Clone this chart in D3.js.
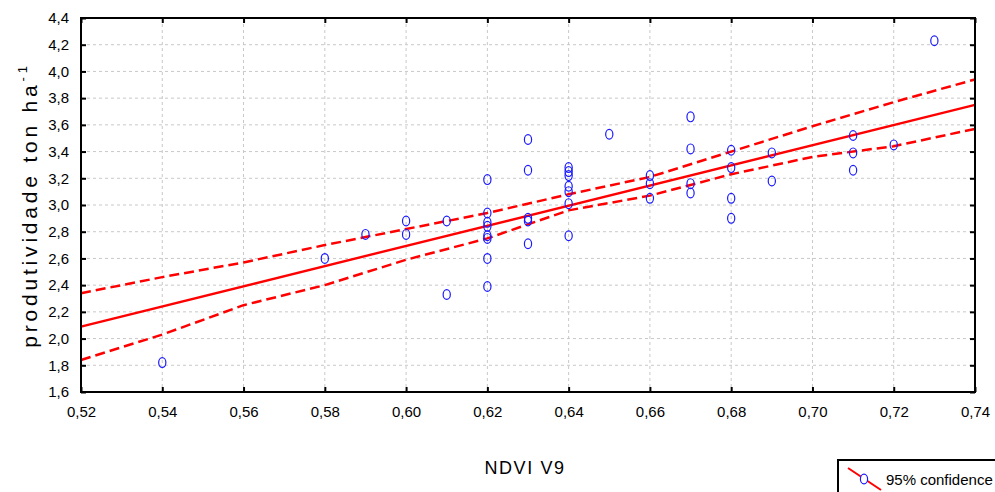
<!DOCTYPE html>
<html>
<head>
<meta charset="utf-8">
<script src="https://cdn.jsdelivr.net/npm/d3@7"></script>
<style>
  body { margin: 0; background: #fff; }
  svg { display: block; }
  text { font-family: "Liberation Sans Narrow", "Liberation Sans", Arial, sans-serif; }
</style>
</head>
<body>
<div id="chart"></div>
<script>
// observed points: NDVI V9 vs productivity (ton/ha)
var ndvi = [0.54, 0.58, 0.59, 0.60, 0.60, 0.61, 0.61,
  0.62, 0.62, 0.62, 0.62, 0.62, 0.62, 0.62, 0.62,
  0.63, 0.63, 0.63, 0.63, 0.63,
  0.64, 0.64, 0.64, 0.64, 0.64, 0.64, 0.64,
  0.65, 0.66, 0.66, 0.66,
  0.67, 0.67, 0.67, 0.67,
  0.68, 0.68, 0.68, 0.68,
  0.69, 0.69, 0.71, 0.71, 0.71, 0.72, 0.73];
var prod = [1.82, 2.60, 2.78, 2.88, 2.78, 2.88, 2.33,
  3.19, 2.94, 2.87, 2.84, 2.77, 2.75, 2.60, 2.39,
  3.49, 3.26, 2.90, 2.88, 2.71,
  3.28, 3.25, 3.22, 3.14, 3.10, 3.01, 2.77,
  3.53, 3.22, 3.16, 3.05,
  3.66, 3.42, 3.16, 3.09,
  3.41, 3.28, 3.05, 2.90,
  3.39, 3.18, 3.52, 3.39, 3.26, 3.45, 4.23];

// fitted line ends and 95% confidence bands
var fitX = [0.52, 0.74];
var fitY = [2.09, 3.75];
var bandX = [0.52, 0.54, 0.56, 0.58, 0.60, 0.62, 0.64, 0.66, 0.68, 0.70, 0.72, 0.74];
var upperY = [2.34, 2.46, 2.57, 2.70, 2.82, 2.94, 3.08, 3.21, 3.40, 3.59, 3.77, 3.94];
var lowerY = [1.84, 2.03, 2.25, 2.40, 2.59, 2.75, 2.96, 3.07, 3.23, 3.36, 3.44, 3.57];

var xTicks = [0.52, 0.54, 0.56, 0.58, 0.60, 0.62, 0.64, 0.66, 0.68, 0.70, 0.72, 0.74];
var yTicks = [1.6, 1.8, 2.0, 2.2, 2.4, 2.6, 2.8, 3.0, 3.2, 3.4, 3.6, 3.8, 4.0, 4.2, 4.4];

var W = 995, H = 492;
var margin = { top: 18, right: 20, bottom: 100, left: 81 },
  width = W - margin.left - margin.right,
  height = H - margin.top - margin.bottom;

var svg = d3.select("#chart").append("svg")
  .attr("width", W).attr("height", H);

var g = svg.append("g")
  .attr("transform", "translate(" + margin.left + "," + margin.top + ")");

var x = d3.scaleLinear().domain([0.52, 0.74]).range([0, width]);
var y = d3.scaleLinear().domain([1.6, 4.4]).range([height, 0]);

var comma = function (d) { return d3.format(".2f")(d).replace(".", ","); };
var comma1 = function (d) { return d3.format(".1f")(d).replace(".", ","); };

// grid
g.append("g").selectAll("line").data(xTicks.slice(1, -1)).enter().append("line")
  .attr("x1", function (d) { return x(d); }).attr("x2", function (d) { return x(d); })
  .attr("y1", 0).attr("y2", height)
  .attr("stroke", "#c8c8c8").attr("stroke-dasharray", "3,3");
g.append("g").selectAll("line").data(yTicks.slice(1, -1)).enter().append("line")
  .attr("y1", function (d) { return y(d); }).attr("y2", function (d) { return y(d); })
  .attr("x1", 0).attr("x2", width)
  .attr("stroke", "#c8c8c8").attr("stroke-dasharray", "3,3");

// axes (ticks point inward)
var xAx = g.append("g").attr("transform", "translate(0," + height + ")")
  .call(d3.axisBottom(x).tickValues(xTicks).tickFormat(comma).tickSizeInner(-5).tickSizeOuter(0).tickPadding(14));
var xTop = g.append("g")
  .call(d3.axisTop(x).tickValues(xTicks).tickFormat("").tickSizeInner(-5).tickSizeOuter(0));
var yAx = g.append("g")
  .call(d3.axisLeft(y).tickValues(yTicks).tickFormat(comma1).tickSizeInner(-5).tickSizeOuter(0).tickPadding(12));
var yRight = g.append("g").attr("transform", "translate(" + width + ",0)")
  .call(d3.axisRight(y).tickValues(yTicks).tickFormat("").tickSizeInner(-5).tickSizeOuter(0));

[xAx, xTop, yAx, yRight].forEach(function (a) {
  a.select(".domain").remove();
  a.selectAll(".tick line").attr("stroke", "#000").attr("stroke-width", 2);
  a.selectAll("text").attr("font-size", 15).attr("fill", "#000");
});

// confidence bands
var line = d3.line()
  .x(function (d) { return x(d[0]); })
  .y(function (d) { return y(d[1]); });

g.append("path").datum(d3.zip(bandX, upperY)).attr("d", line)
  .attr("fill", "none").attr("stroke", "#ff0000").attr("stroke-width", 2.5)
  .attr("stroke-dasharray", "10,5");
g.append("path").datum(d3.zip(bandX, lowerY)).attr("d", line)
  .attr("fill", "none").attr("stroke", "#ff0000").attr("stroke-width", 2.5)
  .attr("stroke-dasharray", "10,5");

// regression line
g.append("path").datum(d3.zip(fitX, fitY)).attr("d", line)
  .attr("fill", "none").attr("stroke", "#ff0000").attr("stroke-width", 2.4);

// points
g.append("g").selectAll("ellipse").data(d3.zip(ndvi, prod)).enter().append("ellipse")
  .attr("cx", function (d) { return x(d[0]); })
  .attr("cy", function (d) { return y(d[1]); })
  .attr("rx", 3.6).attr("ry", 4.9)
  .attr("fill", "none").attr("stroke", "#1a1aff").attr("stroke-width", 1.2);

// frame
g.append("rect").attr("width", width).attr("height", height)
  .attr("fill", "none").attr("stroke", "#000").attr("stroke-width", 2);

// axis titles
svg.append("text")
  .attr("x", 525).attr("y", 474)
  .attr("text-anchor", "middle").attr("font-size", 18)
  .attr("letter-spacing", 1.6)
  .text("NDVI V9");

var yt = svg.append("text")
  .attr("transform", "translate(37,205) rotate(-90)")
  .attr("text-anchor", "middle").attr("font-size", 21)
  .attr("font-family", "Liberation Sans, Arial, sans-serif")
  .attr("letter-spacing", 3.8);
yt.append("tspan").text("produtividade ton ha");
yt.append("tspan").attr("font-size", 13).attr("dy", -10).text("-1");

// legend
var lg = svg.append("g").attr("transform", "translate(838,460)");
lg.append("rect").attr("width", 170).attr("height", 40)
  .attr("fill", "#fff").attr("stroke", "#000").attr("stroke-width", 2);
lg.append("line").attr("x1", 10).attr("y1", 8).attr("x2", 43).attr("y2", 30)
  .attr("stroke", "#ff0000").attr("stroke-width", 2);
lg.append("ellipse").attr("cx", 26).attr("cy", 19).attr("rx", 3.6).attr("ry", 4.9)
  .attr("fill", "#fff").attr("stroke", "#1a1aff").attr("stroke-width", 1.2);
lg.append("text").attr("x", 48).attr("y", 25).attr("font-size", 15)
  .text("95% confidence");
</script>
</body>
</html>
